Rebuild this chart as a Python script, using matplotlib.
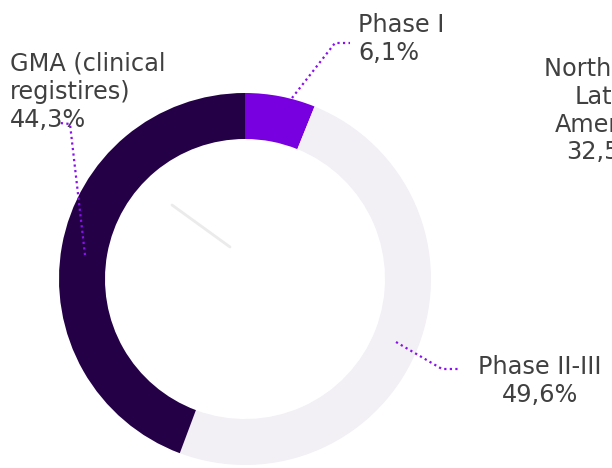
import matplotlib
matplotlib.use("Agg")
import matplotlib.pyplot as plt

# Data
categories = ["Phase I", "Phase II-III", "GMA (clinical\nregistires)"]
values = [6.1, 49.6, 44.3]
value_labels = ["6,1%", "49,6%", "44,3%"]
colors = ["#7800E0", "#F2EFF5", "#240047"]
other_label = "North and\nLatin\nAmerica\n32,5%"

W, H = 612, 468
fig = plt.figure(figsize=(W / 100, H / 100), dpi=100)
ax = fig.add_axes([0, 0, 1, 1])

def Y(y):
    return H - y

cx, cy, R, ring = 245, 279, 186, 46
ax.pie(values, colors=colors, startangle=90, counterclock=False,
       radius=R, center=(cx, Y(cy)), wedgeprops=dict(width=ring, linewidth=0))

# faint grey line inside the hole
ax.plot([172, 230], [Y(205), Y(247)], color="#EBEBEB", lw=2, solid_capstyle="round")

lead = dict(color="#8A10F0", lw=1.6, ls=(0, (1, 1.5)))
# Phase I leader
ax.plot([292, 335, 350], [Y(98), Y(43), Y(43)], **lead)
# Phase II-III leader
ax.plot([396, 442, 458], [Y(342), Y(369), Y(369)], **lead)
# GMA leader
ax.plot([85, 70, 60], [Y(255), Y(124), Y(123)], **lead)

tc = "#404040"
fs = 17.3
ax.text(358, Y(13), f"{categories[0]}\n{value_labels[0]}", ha="left", va="top",
        fontsize=fs, color=tc, linespacing=1.2)
ax.text(540, Y(355), f"{categories[1]}\n{value_labels[1]}", ha="center", va="top",
        fontsize=fs, color=tc, linespacing=1.2)
ax.text(10, Y(52), f"{categories[2]}\n{value_labels[2]}", ha="left", va="top",
        fontsize=fs, color=tc, linespacing=1.2)
ax.text(604, Y(57), other_label, ha="center", va="top",
        fontsize=fs, color=tc, linespacing=1.2)

ax.set_xlim(0, W)
ax.set_ylim(0, H)
ax.set_aspect("auto")
ax.axis("off")
fig.savefig("out.png", dpi=100)
